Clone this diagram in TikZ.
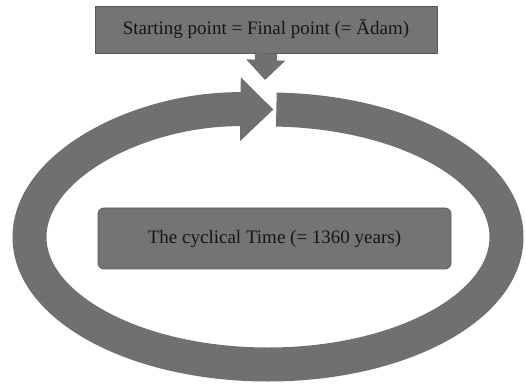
\documentclass[tikz,border=0pt]{standalone}
\usepackage{fontspec}
\setmainfont{Liberation Serif}
\newfontfamily\letraserif{Liberation Serif}
\usetikzlibrary{arrows.meta}
\definecolor{cajagris}{RGB}{116,116,116}
\definecolor{anillogris}{RGB}{112,112,112}
\definecolor{bordegris}{RGB}{88,88,88}
\definecolor{textogris}{RGB}{22,22,22}

\begin{document}
\begin{tikzpicture}[x=1pt, y=1pt,
    caja/.style={fill=cajagris, draw=bordegris, line width=0.8pt, text=textogris,
      font=\letraserif\fontsize{19}{22}\selectfont, inner sep=0pt},
    flechagorda/.style={draw=anillogris, line cap=butt}]
  \useasboundingbox (0,0) rectangle (526,385);

  % Caja superior: punto de partida = punto final
  \node[caja, minimum width=342, minimum height=47] (inicio) at (266,355.5)
    {Starting point = Final point (= Ādam)};

  % Caja central: el tiempo ciclico
  \node[caja, rounded corners=6pt, minimum width=353, minimum height=61] (tiempo) at (274.5,146.5)
    {The cyclical Time (= 1360 years)};

  % Centro del anillo y hueco donde se cierra el ciclo
  \coordinate (centro) at (268,148);
  \coordinate (hueco) at (265,305);

  % Flecha de la caja superior hacia el hueco
  \draw[flechagorda, line width=22, -{Triangle[length=20, width=38]}] (inicio.south) -- (hueco);

  % Anillo con punta de flecha (sentido horario)
  \draw[flechagorda, line width=34, -{Triangle[length=33, width=62]}]
    ([shift={(88:238.5 and 127.5)}]centro)
    arc[start angle=88, end angle=-271.3, x radius=238.5, y radius=127.5];
\end{tikzpicture}
\end{document}
